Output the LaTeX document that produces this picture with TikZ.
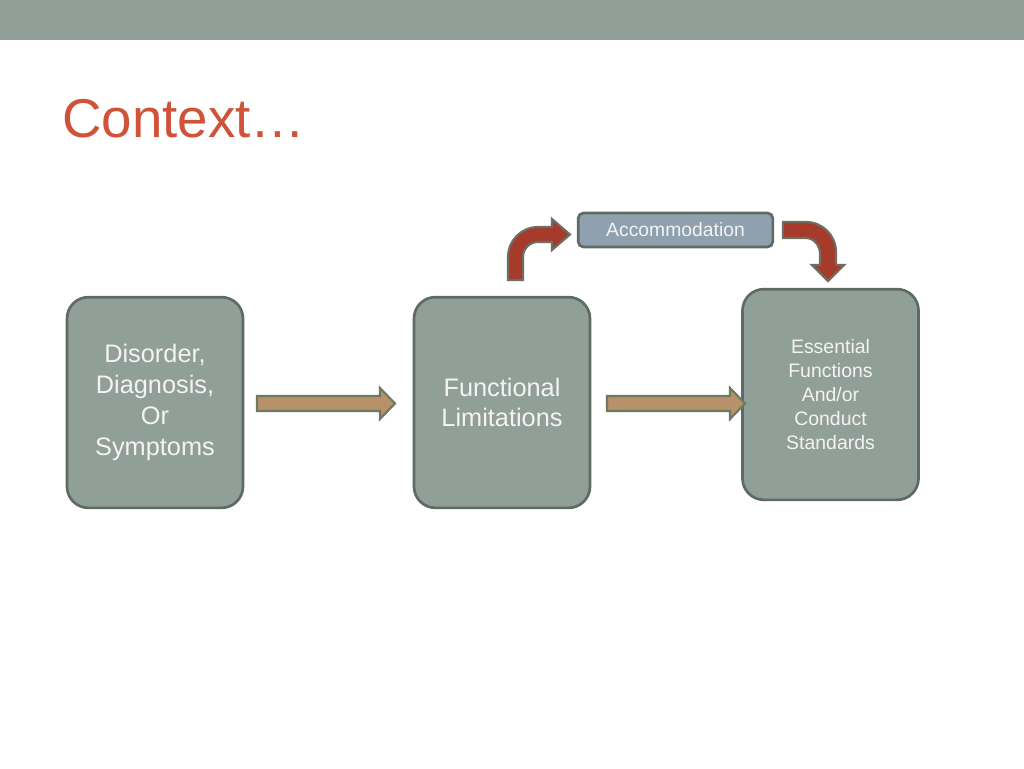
\documentclass[tikz,border=0pt]{standalone}
\usepackage{fontspec}
\setmainfont{Liberation Sans}
\definecolor{barcol}{HTML}{909F97}
\definecolor{boxfill}{HTML}{909F97}
\definecolor{boxline}{HTML}{5E6B65}
\definecolor{accfill}{HTML}{8FA0AE}
\definecolor{titlecol}{HTML}{CF5239}
\definecolor{redarrow}{HTML}{A63A2B}
\definecolor{redline}{HTML}{6E6E62}
\definecolor{tanarrow}{HTML}{B8916A}
\definecolor{tanline}{HTML}{6C7A60}
\definecolor{txt}{HTML}{F3F3F3}
\begin{document}
\begin{tikzpicture}[x=0.75pt,y=-0.75pt,
  bigbox/.style={draw=boxline,line width=2pt,fill=boxfill,rounded corners=16pt,
    minimum width=132pt,minimum height=158pt,inner sep=0pt,text=txt,align=center},
  accbox/.style={draw=boxline,line width=2pt,fill=accfill,rounded corners=4pt,
    minimum width=146pt,minimum height=25.5pt,inner sep=0pt,text=txt,
    font=\fontsize{14.5}{17}\selectfont},
  redarr/.style={fill=redarrow,draw=redline,line width=1.6pt,line join=miter},
  tanarr/.style={fill=tanarrow,draw=tanline,line width=1.6pt,line join=miter}]
\useasboundingbox (0,0) rectangle (1024,768);
\fill[white] (0,0) rectangle (1024,768);
\fill[barcol] (0,0) rectangle (1024,40);
\node[anchor=base west,inner sep=0pt,text=titlecol,font=\fontsize{41}{48}\selectfont] (title) at (62,137) {Context…};

\node[bigbox,font=\fontsize{19}{23.2}\selectfont] (b1) at (155,402.5) {Disorder,\\Diagnosis,\\Or\\Symptoms};
\node[bigbox,font=\fontsize{19}{22.5}\selectfont] (b2) at (502,402.5) {Functional\\Limitations};
\node[bigbox,font=\fontsize{14.6}{18}\selectfont] (b3) at (830.5,394.5) {Essential\\Functions\\And/or\\Conduct\\Standards};
\node[accbox] (acc) at (675.5,230) {Accommodation};

% horizontal block arrows
\draw[tanarr] (257,396) -- (380,396) -- (380,388) -- (395,403.5) -- (380,419) -- (380,411) -- (257,411) -- cycle;
\draw[tanarr] (607,396) -- (730,396) -- (730,388) -- (745,403.5) -- (730,419) -- (730,411) -- (607,411) -- cycle;

% up-right bent arrow
\draw[redarr] (508,280) -- (508,257) .. controls (508,240.4) and (521.4,227) .. (538,227)
  -- (552,227) -- (552,219) -- (570,234.5) -- (552,250) -- (552,242) -- (538,242)
  .. controls (529.7,242) and (523,248.7) .. (523,257) -- (523,280) -- cycle;

% right-down bent arrow
\draw[redarr] (783,222) -- (806,222) .. controls (822.6,222) and (836,235.4) .. (836,252)
  -- (836,265) -- (844,265) -- (828,281) -- (812,265) -- (820,265) -- (820,254)
  .. controls (820,245.2) and (813.7,238) .. (806,238) -- (783,238) -- cycle;
\end{tikzpicture}
\end{document}
